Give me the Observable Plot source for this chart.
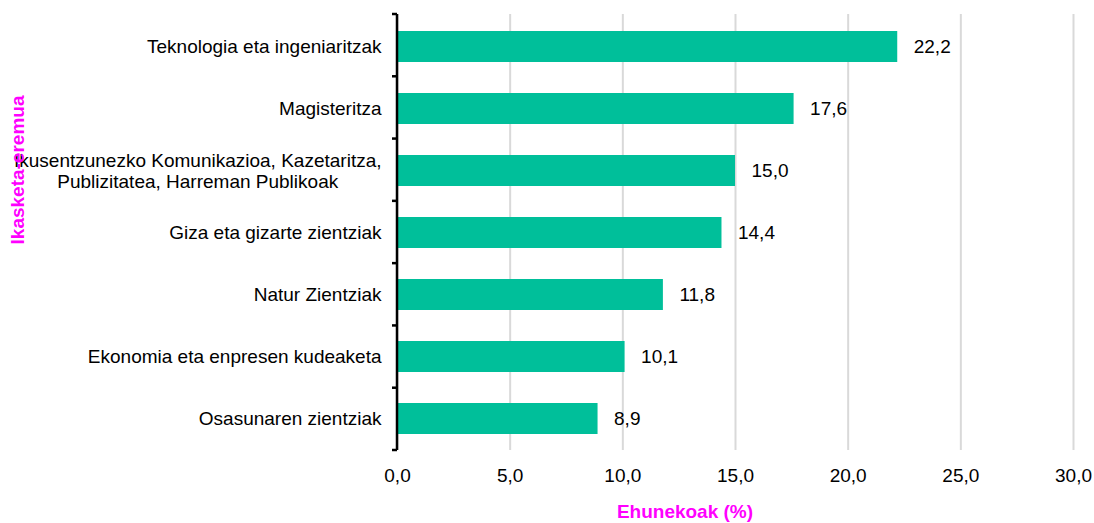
<!DOCTYPE html>
<html><head><meta charset="utf-8">
<script src="https://cdn.jsdelivr.net/npm/d3@7"></script>
<script src="https://cdn.jsdelivr.net/npm/@observablehq/plot@0.6"></script>
<style>body{margin:0;background:#fff;font-family:"Liberation Sans",Arial,sans-serif}</style>
</head><body><div id="chart"></div>
<script>
const categories = [
  "Teknologia eta ingeniaritzak",
  "Magisteritza",
  "Ikusentzunezko Komunikazioa, Kazetaritza,\nPublizitatea, Harreman Publikoak",
  "Giza eta gizarte zientziak",
  "Natur Zientziak",
  "Ekonomia eta enpresen kudeaketa",
  "Osasunaren zientziak"
];
const values = [22.2, 17.6, 15.0, 14.4, 11.8, 10.1, 8.9];
const xTicks = [0, 5, 10, 15, 20, 25, 30];
const xLabel = "Ehunekoak (%)";
const yLabel = "Ikasketa-eremua";

const data = categories.map((c, i) => ({cat: c, value: values[i]}));
const fmt = d => d.toFixed(1).replace(".", ",");
const FS = 19;

const axisFrame = (index, scales, vals, dims) => {
  const n = categories.length;
  const top = dims.marginTop, bottom = dims.height - dims.marginBottom;
  const x0 = scales.x(0);
  const step = (bottom - top) / n;
  const g = d3.create("svg:g").attr("stroke", "#000").attr("stroke-width", 2.5);
  g.append("line").attr("x1", x0).attr("x2", x0).attr("y1", top).attr("y2", bottom);
  for (let i = 0; i <= n; i++) {
    g.append("line").attr("x1", x0 - 5).attr("x2", x0)
      .attr("y1", top + i * step).attr("y2", top + i * step);
  }
  return g.node();
};

const chart = Plot.plot({
  width: 1094,
  height: 523,
  marginLeft: 397,
  marginRight: 21,
  marginTop: 14,
  marginBottom: 73,
  style: {fontFamily: "Liberation Sans, Arial, sans-serif", fontSize: FS + "px", color: "#000", background: "#fff"},
  x: {domain: [0, 30]},
  y: {domain: categories, paddingInner: 0.5, paddingOuter: 0.25},
  marks: [
    Plot.gridX(xTicks, {stroke: "#d9d9d9", strokeOpacity: 1, strokeWidth: 2}),
    Plot.barX(data, {x: "value", y: "cat", fill: "#00BF9A"}),
    Plot.text(data, {x: "value", y: "cat", text: d => fmt(d.value), dx: 16, textAnchor: "start", fontSize: FS, fill: "#000"}),
    Plot.axisX(xTicks, {tickFormat: fmt, tickSize: 0, tickPadding: 18, fontSize: FS, label: null}),
    Plot.axisY({tickSize: 0, tickPadding: 16, fontSize: FS, label: null, lineHeight: 1.06}),
    axisFrame
  ]
});
document.getElementById("chart").appendChild(chart);

// center multi-line category labels on each other
d3.select(chart).selectAll("text").each(function() {
  const tspans = d3.select(this).selectAll("tspan");
  if (tspans.size() > 1) {
    let w = 0;
    tspans.each(function() { w = Math.max(w, this.getComputedTextLength()); });
    d3.select(this).attr("text-anchor", "middle");
    tspans.attr("x", -w / 2);
  }
});

const svg = d3.select(chart);
svg.append("text")
  .attr("transform", "translate(17,170) rotate(-90)")
  .attr("text-anchor", "middle").attr("dominant-baseline", "central")
  .attr("font-weight", "bold").attr("font-size", FS).attr("fill", "#FF00FF")
  .text(yLabel);
svg.append("text")
  .attr("x", 685).attr("y", 518)
  .attr("text-anchor", "middle")
  .attr("font-weight", "bold").attr("font-size", FS).attr("fill", "#FF00FF")
  .text(xLabel);
</script></body></html>
